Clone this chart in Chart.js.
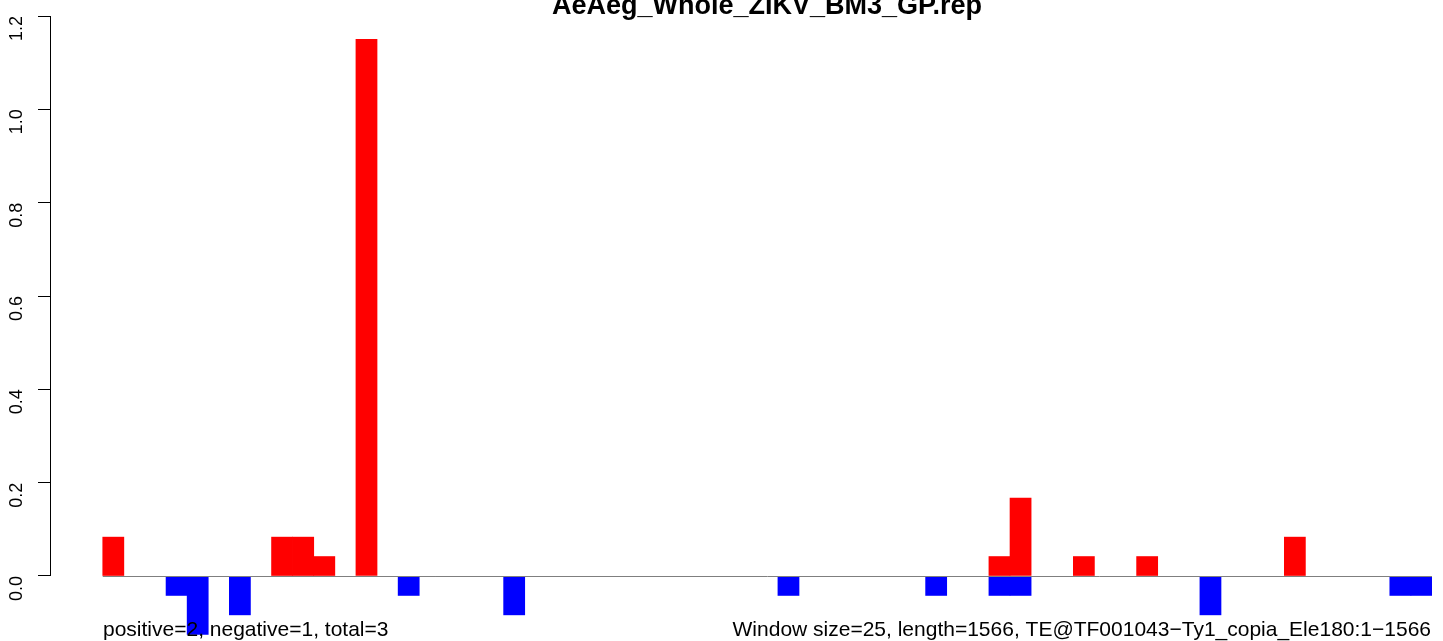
<!DOCTYPE html>
<html>
<head>
<meta charset="utf-8">
<script src="https://cdn.jsdelivr.net/npm/chart.js@4"></script>
<style>
  html, body { margin: 0; padding: 0; background: #fff; }
  #wrap { width: 1443px; height: 641px; position: relative; }
</style>
</head>
<body>
<div id="wrap"><canvas id="bar" width="1443" height="641"></canvas></div>
<script>
// window index (25 bp windows over 1566 bp -> 63 windows)
const positive = [
  0.0833, 0, 0, 0, 0, 0, 0, 0, 0.0833, 0.0833,
  0.0417, 0, 1.15, 0, 0, 0, 0, 0, 0, 0,
  0, 0, 0, 0, 0, 0, 0, 0, 0, 0,
  0, 0, 0, 0, 0, 0, 0, 0, 0, 0,
  0, 0, 0.0417, 0.1667, 0, 0, 0.0417, 0, 0, 0.0417,
  0, 0, 0, 0, 0, 0, 0.0833, 0, 0, 0,
  0, 0, 0
];
const negative = [
  0, 0, 0, -0.0417, -0.125, 0, -0.0833, 0, 0, 0,
  0, 0, 0, 0, -0.0417, 0, 0, 0, 0, -0.0833,
  0, 0, 0, 0, 0, 0, 0, 0, 0, 0,
  0, 0, -0.0417, 0, 0, 0, 0, 0, 0, -0.0417,
  0, 0, -0.0417, -0.0417, 0, 0, 0, 0, 0, 0,
  0, 0, -0.0833, 0, 0, 0, 0, 0, 0, 0,
  0, -0.0417, -0.0417
];
const yTicks = [0, 0.2, 0.4, 0.6, 0.8, 1.0, 1.2];
const title = 'AeAeg_Whole_ZIKV_BM3_GP.rep';
const leftNote = 'positive=2, negative=1, total=3';
const rightNote = 'Window size=25, length=1566, TE@TF001043\u2212Ty1_copia_Ele180:1\u22121566';

const bins = positive.map((v, i) => i);
// empty windows -> null so nothing is drawn for them
const toPoints = arr => arr.map((v, i) => ({ x: bins[i], y: v === 0 ? null : v }));

// R-style pieces: axis line only from 0 to 1.2, baseline, texts
const rStyle = {
  id: 'rStyle',
  afterDatasetsDraw(chart) {
    const ctx = chart.ctx, xs = chart.scales.x, ys = chart.scales.y;
    const y0 = Math.round(ys.getPixelForValue(0)) + 0.5;
    ctx.save();
    ctx.strokeStyle = '#7f7f7f';
    ctx.lineWidth = 1;
    ctx.beginPath();
    ctx.moveTo(xs.getPixelForValue(-0.5), y0);
    ctx.lineTo(chart.chartArea.right, y0);
    ctx.stroke();
    ctx.restore();
  },
  afterDraw(chart) {
    const ctx = chart.ctx, ys = chart.scales.y, ca = chart.chartArea;
    ctx.save();
    ctx.strokeStyle = '#000';
    ctx.lineWidth = 1;
    ctx.beginPath();
    ctx.moveTo(ca.left + 0.5, ys.getPixelForValue(yTicks[0]));
    ctx.lineTo(ca.left + 0.5, ys.getPixelForValue(yTicks[yTicks.length - 1]));
    ctx.stroke();

    ctx.fillStyle = '#000';
    ctx.font = 'bold 27px "Liberation Sans", Arial, sans-serif';
    ctx.textAlign = 'center';
    ctx.textBaseline = 'alphabetic';
    ctx.fillText(title, 767, 14);

    ctx.font = '21px "Liberation Sans", Arial, sans-serif';
    ctx.textAlign = 'left';
    ctx.fillText(leftNote, 103, 636);
    ctx.textAlign = 'right';
    ctx.fillText(rightNote, 1431, 636);
    ctx.restore();
  }
};

const ctx1 = document.getElementById('bar').getContext('2d');
const chart = new Chart(ctx1, {
  type: 'bar',
  data: {
    datasets: [
      { label: 'positive', data: toPoints(positive), backgroundColor: '#ff0000', borderWidth: 0 },
      { label: 'negative', data: toPoints(negative), backgroundColor: '#0000ff', borderWidth: 0 }
    ]
  },
  options: {
    responsive: false,
    animation: false,
    grouped: false,
    skipNull: true,
    barPercentage: 1,
    categoryPercentage: 1,
    layout: { padding: { left: 0, right: 11, top: 0, bottom: 0 } },
    plugins: { legend: { display: false }, tooltip: { enabled: false } },
    scales: {
      x: {
        type: 'linear',
        display: false,
        min: -3.0,
        max: 62.5,
        offset: false
      },
      y: {
        min: -0.1393,
        max: 1.2343,
        afterFit(scale) {
          scale.width = 50;
          scale.paddingTop = 0;
          scale.paddingBottom = 0;
        },
        afterBuildTicks(scale) { scale.ticks = yTicks.map(v => ({ value: v })); },
        border: { display: false },
        grid: {
          drawOnChartArea: false,
          drawTicks: true,
          tickLength: 12,
          tickColor: '#000',
          tickWidth: 1
        },
        ticks: {
          minRotation: 90,
          maxRotation: 90,
          padding: 21,
          color: '#000',
          font: { family: '"Liberation Sans", Arial, sans-serif', size: 18 },
          callback: v => v.toFixed(1)
        }
      }
    }
  },
  plugins: [rStyle]
});
</script>
</body>
</html>
